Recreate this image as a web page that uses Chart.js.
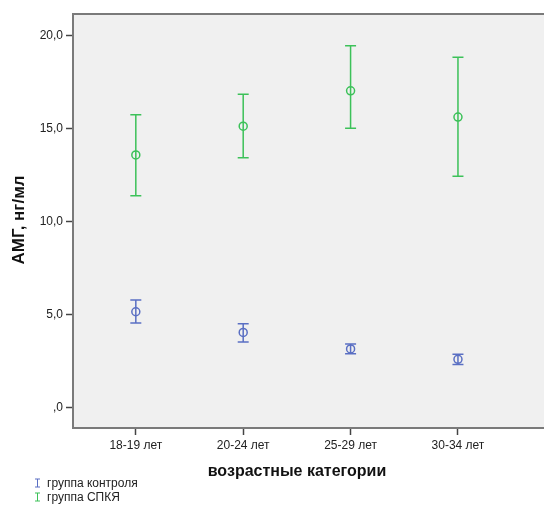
<!DOCTYPE html>
<html>
<head>
<meta charset="utf-8">
<script src="https://cdn.jsdelivr.net/npm/chart.js@4/dist/chart.umd.min.js"></script>
<style>
  html, body { margin: 0; padding: 0; background: #ffffff; }
  #wrap { width: 544px; height: 505px; }
</style>
</head>
<body>
<div id="wrap"><canvas id="c" width="544" height="505"></canvas></div>
<script>
// Age categories on the x axis
const categories = ['18-19 лет', '20-24 лет', '25-29 лет', '30-34 лет'];

// Control group: means and 95% CI bounds
const controlMean  = [5.15, 4.04, 3.15, 2.59];
const controlLower = [4.54, 3.52, 2.89, 2.32];
const controlUpper = [5.78, 4.51, 3.41, 2.86];

// PCOS group: means and 95% CI bounds
const pcosMean  = [13.58, 15.13, 17.03, 15.62];
const pcosLower = [11.39, 13.43, 15.02, 12.43];
const pcosUpper = [15.74, 16.85, 19.45, 18.84];

const yTicks = [0, 5, 10, 15, 20];
const seriesNames = ['группа контроля', 'группа СПКЯ'];

const BLUE = '#5a6fc3';
const GREEN = '#3cc159';
const FONT = '"Liberation Sans", Arial, sans-serif';

function toPoints(arr) { return arr.map((v, i) => ({ x: i, y: v })); }

function fmtComma(v) {
  if (v === 0) return ',0';
  return v.toFixed(1).replace('.', ',');
}

// Background box and frame around the plot area (runs off the right edge)
const framePlugin = {
  id: 'frame',
  beforeDraw(chart) {
    const { ctx, chartArea: a } = chart;
    ctx.save();
    ctx.fillStyle = '#f0f0f0';
    ctx.fillRect(a.left, a.top, chart.width - a.left, a.bottom - a.top);
    ctx.restore();
  },
  afterDraw(chart) {
    const { ctx, chartArea: a } = chart;
    ctx.save();
    ctx.strokeStyle = '#7a7a7a';
    ctx.lineWidth = 2;
    ctx.beginPath();
    ctx.moveTo(chart.width + 2, a.top);
    ctx.lineTo(a.left, a.top);
    ctx.lineTo(a.left, a.bottom);
    ctx.lineTo(chart.width + 2, a.bottom);
    ctx.stroke();
    ctx.restore();
  }
};

// Error bars (CI whiskers with caps) drawn through the chart scales
const errorBarPlugin = {
  id: 'errorBars',
  beforeDatasetsDraw(chart) {
    const { ctx, scales: { x, y } } = chart;
    const sets = [
      { lo: controlLower, hi: controlUpper, color: BLUE },
      { lo: pcosLower, hi: pcosUpper, color: GREEN }
    ];
    ctx.save();
    ctx.lineWidth = 1.5;
    sets.forEach(s => {
      ctx.strokeStyle = s.color;
      s.lo.forEach((lo, i) => {
        const px = x.getPixelForValue(i);
        const pLo = y.getPixelForValue(lo);
        const pHi = y.getPixelForValue(s.hi[i]);
        ctx.beginPath();
        ctx.moveTo(px, pLo); ctx.lineTo(px, pHi);
        ctx.moveTo(px - 5.5, pLo); ctx.lineTo(px + 5.5, pLo);
        ctx.moveTo(px - 5.5, pHi); ctx.lineTo(px + 5.5, pHi);
        ctx.stroke();
      });
    });
    ctx.restore();
  }
};

// Axis titles and the legend under the plot
const textPlugin = {
  id: 'texts',
  afterDraw(chart) {
    const { ctx } = chart;
    ctx.save();
    ctx.fillStyle = '#111';
    ctx.font = 'bold 16px ' + FONT;
    ctx.textAlign = 'center';
    ctx.textBaseline = 'middle';
    ctx.fillText('возрастные категории', 297, 472);

    ctx.save();
    ctx.translate(19, 220);
    ctx.rotate(-Math.PI / 2);
    ctx.font = 'bold 17px ' + FONT;
    ctx.fillText('АМГ, нг/мл', 0, 0);
    ctx.restore();

    const colors = [BLUE, GREEN];
    const ys = [483, 497];
    ctx.font = '12px ' + FONT;
    ctx.textAlign = 'left';
    seriesNames.forEach((name, i) => {
      const cx = 37.5, cy = ys[i];
      ctx.strokeStyle = colors[i];
      ctx.lineWidth = 1;
      ctx.beginPath();
      ctx.moveTo(cx, cy - 4); ctx.lineTo(cx, cy + 4);
      ctx.moveTo(cx - 2.5, cy - 4); ctx.lineTo(cx + 2.5, cy - 4);
      ctx.moveTo(cx - 2.5, cy + 4); ctx.lineTo(cx + 2.5, cy + 4);
      ctx.stroke();
      ctx.fillStyle = '#222';
      ctx.fillText(name, 47, cy + 0.5);
    });
    ctx.restore();
  }
};

new Chart(document.getElementById('c'), {
  type: 'line',
  data: {
    datasets: [
      {
        label: seriesNames[0],
        data: toPoints(controlMean),
        showLine: false,
        borderColor: BLUE,
        backgroundColor: 'rgba(0,0,0,0)',
        pointRadius: 4,
        pointBorderWidth: 1.5,
        pointBorderColor: BLUE,
        pointBackgroundColor: 'rgba(0,0,0,0)'
      },
      {
        label: seriesNames[1],
        data: toPoints(pcosMean),
        showLine: false,
        borderColor: GREEN,
        backgroundColor: 'rgba(0,0,0,0)',
        pointRadius: 4,
        pointBorderWidth: 1.5,
        pointBorderColor: GREEN,
        pointBackgroundColor: 'rgba(0,0,0,0)'
      }
    ]
  },
  options: {
    responsive: false,
    animation: false,
    layout: { padding: { top: 14, left: 0, right: 0, bottom: 0 } },
    plugins: { legend: { display: false }, tooltip: { enabled: false } },
    scales: {
      x: {
        type: 'linear',
        min: -0.585,
        max: 3.75,
        afterBuildTicks(scale) { scale.ticks = categories.map((_, i) => ({ value: i })); },
        afterFit(scale) {
          scale.height = 77;
          scale.paddingLeft = 0;
          scale.paddingRight = 0;
        },
        border: { display: false },
        grid: { drawOnChartArea: false, drawTicks: true, tickLength: 7, tickColor: '#444', tickWidth: 1.5 },
        ticks: {
          color: '#222',
          font: { family: FONT, size: 12 },
          padding: 3,
          maxRotation: 0,
          autoSkip: false,
          callback: v => categories[v]
        }
      },
      y: {
        min: -1.1,
        max: 21.16,
        afterBuildTicks(scale) { scale.ticks = yTicks.map(v => ({ value: v })); },
        afterFit(scale) {
          scale.width = 73;
          scale.paddingTop = 0;
          scale.paddingBottom = 0;
        },
        border: { display: false },
        grid: { drawOnChartArea: false, drawTicks: true, tickLength: 7, tickColor: '#444', tickWidth: 1.5 },
        ticks: {
          color: '#222',
          font: { family: FONT, size: 12 },
          padding: 3,
          callback: v => fmtComma(v)
        }
      }
    }
  },
  plugins: [framePlugin, errorBarPlugin, textPlugin]
});
</script>
</body>
</html>
